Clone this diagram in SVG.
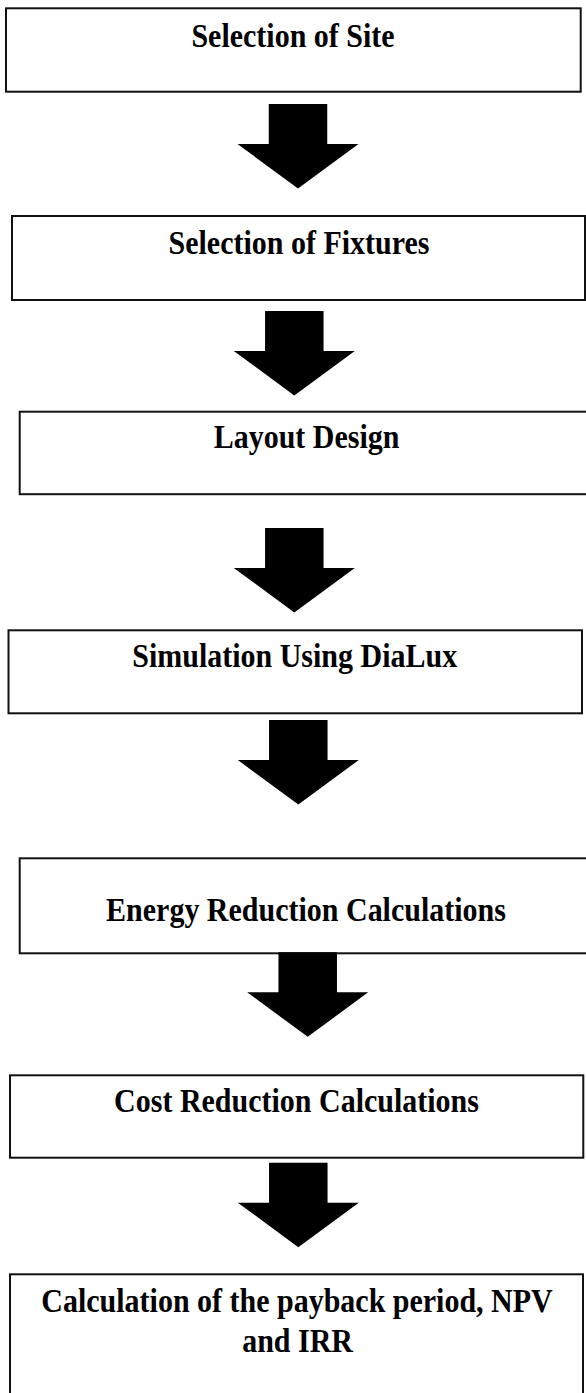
<svg xmlns="http://www.w3.org/2000/svg" width="586" height="1393" viewBox="0 0 586 1393">
<style>
.box{fill:#fff;stroke:#111;stroke-width:2}
.lbl{font-family:"Liberation Serif","Times New Roman",serif;font-weight:bold;font-size:30px;fill:#000;text-anchor:middle}
.arr{fill:#000;stroke:none}
</style>
<rect width="586" height="1393" fill="#fff"/>
<g id="n1"><rect class="box" x="6" y="8.3" width="574.7" height="83.4"/><text class="lbl" transform="translate(293,46.7) scale(1,1.15)">Selection of Site</text></g>
<g id="n2"><rect class="box" x="12" y="216" width="573" height="84"/><text class="lbl" transform="translate(299,254) scale(1,1.15)">Selection of Fixtures</text></g>
<g id="n3"><rect class="box" x="19.7" y="411.7" width="600" height="82.5"/><text class="lbl" transform="translate(306.6,448.3) scale(1,1.15)">Layout Design</text></g>
<g id="n4"><rect class="box" x="8.5" y="630.3" width="573.5" height="83"/><text class="lbl" transform="translate(294.7,667.3) scale(1,1.15)">Simulation Using DiaLux</text></g>
<g id="n5"><rect class="box" x="19.7" y="858.3" width="600" height="95"/><text class="lbl" transform="translate(306,921) scale(1,1.15)">Energy Reduction Calculations</text></g>
<g id="n6"><rect class="box" x="10" y="1075.3" width="573.3" height="82.4"/><text class="lbl" transform="translate(296.5,1112.3) scale(1,1.15)">Cost Reduction Calculations</text></g>
<g id="n7"><rect class="box" x="10" y="1274.3" width="573" height="200"/><text class="lbl" transform="translate(297,1311.5) scale(1,1.15)">Calculation of the payback period, NPV</text><text class="lbl" transform="translate(297.6,1351.7) scale(1,1.15)">and IRR</text></g>
<g id="connectors">
<path class="arr" d="M268.75,104 h58.5 v40 h31.25 L298,188.5 L237.5,144 h31.25 z"/>
<path class="arr" d="M265.05,311 h58.5 v40 h31.25 L294.3,395.5 L233.8,351 h31.25 z"/>
<path class="arr" d="M265.05,528 h58.5 v40 h31.25 L294.3,612.5 L233.8,568 h31.25 z"/>
<path class="arr" d="M269.05,720 h58.5 v40 h31.25 L298.3,804.5 L237.8,760 h31.25 z"/>
<path class="arr" d="M278.45,952.3 h58.5 v40 h31.25 L307.7,1036.8 L247.2,992.3 h31.25 z"/>
<path class="arr" d="M269.05,1162.7 h58.5 v40 h31.25 L298.3,1247.2 L237.8,1202.7 h31.25 z"/>
</g>
</svg>
